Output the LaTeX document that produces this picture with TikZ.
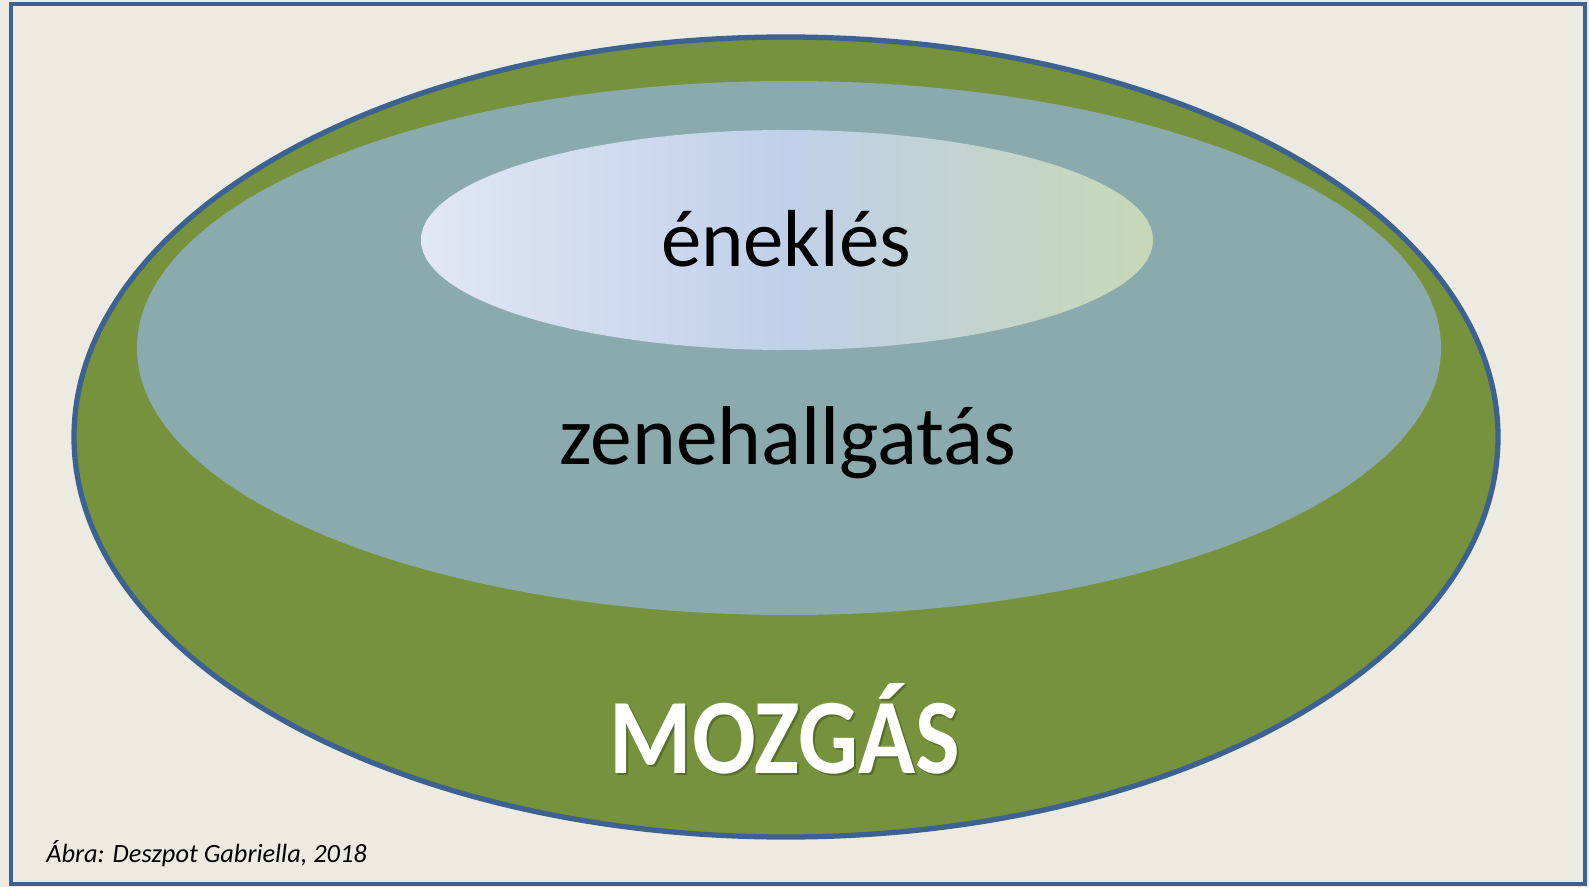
\documentclass[tikz,border=0pt]{standalone}
\usepackage{fontspec}
\setmainfont{Carlito}
\usetikzlibrary{shapes.geometric}
\definecolor{paper}{HTML}{EDEBE1}
\definecolor{frameblue}{HTML}{3D6190}
\definecolor{grass}{HTML}{76923C}
\definecolor{water}{HTML}{8BAAAD}
\definecolor{skyleft}{HTML}{E2E7F4}
\definecolor{skymid}{HTML}{C0D0EA}
\definecolor{skyright}{HTML}{C6D8B6}
\tikzstyle{ring} = [draw=frameblue, line width=3pt]
\tikzstyle{bigtext} = [anchor=base, inner sep=0pt, text=black, font=\fontsize{46}{50}\selectfont]
\tikzstyle{movetext} = [anchor=base, inner sep=0pt, font=\fontsize{61}{66}\selectfont\bfseries]

\begin{document}
\begin{tikzpicture}[x=0.02cm, y=0.02cm]
        \useasboundingbox (0,0) rectangle (1589,887);
        \fill [paper] (0,0) rectangle (1589,887);
        \draw [frameblue, line width=2.2pt] (11,3) rectangle (1585,883);
        % the three rings
        \draw [ring, fill=grass] (786,450) ellipse [x radius=712, y radius=400];
        \fill [water] (789,539) ellipse [x radius=652, y radius=267];
        \shade [left color=skyleft, right color=skyright, middle color=skymid] (787,647) ellipse [x radius=366, y radius=110];
        % texts
        \node (song) [bigtext] at (786,620) {éneklés};
        \node (music) [bigtext, font=\fontsize{47.5}{52}\selectfont] at (788,423) {zenehallgatás};
        \node (moveshadow) [movetext, text=black, opacity=0.25] at (787,112) {\scalebox{0.88}[1]{MOZGÁS}};
        \node (move) [movetext, text=white] at (785,114) {\scalebox{0.88}[1]{MOZGÁS}};
        \node (credit) [anchor=base west, inner sep=0pt, font=\fontsize{15}{17}\selectfont\itshape] at (46,25) {Ábra: Deszpot Gabriella, 2018};
    \end{tikzpicture}
\end{document}
